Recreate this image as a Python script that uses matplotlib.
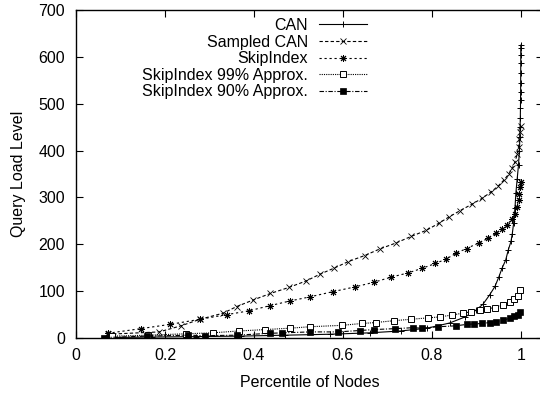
import matplotlib
matplotlib.use('Agg')
import matplotlib.pyplot as plt

can_x = [0.07, 0.17, 0.27, 0.37, 0.47, 0.57, 0.66, 0.73, 0.79, 0.84, 0.875, 0.90,
         0.915, 0.93, 0.942, 0.951, 0.958, 0.966, 0.972, 0.978, 0.981, 0.984, 0.987,
         0.989, 0.992, 0.995, 0.997, 0.998, 0.9985, 0.999, 0.9993, 0.9995, 0.9997,
         0.9998, 0.9999, 1.0]
can_y = [1, 2, 3, 4, 6, 8, 11, 15, 21, 32, 45, 60,
         72, 92, 110, 131, 149, 166, 188, 206, 223, 245, 277,
         309, 340, 370, 400, 430, 451, 470, 491, 508, 525, 544,
         565, 586]
can_top_y = [603, 618, 625]

sampled_x = [0.071, 0.187, 0.236, 0.279, 0.331, 0.361, 0.398, 0.437, 0.479, 0.518,
             0.548, 0.58, 0.612, 0.649, 0.683, 0.72, 0.754, 0.788, 0.816, 0.838,
             0.864, 0.891, 0.913, 0.932, 0.949, 0.962, 0.973, 0.981, 0.987, 0.992,
             0.995, 0.997, 0.999, 1.0]
sampled_y = [8, 13, 26, 40, 53, 67, 81, 95, 108, 122,
             136, 149, 163, 176, 190, 203, 217, 230, 245, 258,
             272, 286, 298, 311, 324, 337, 350, 362, 376, 392,
             408, 425, 440, 452]

skip_x = [0.071, 0.146, 0.211, 0.279, 0.34, 0.389, 0.436, 0.481, 0.527, 0.578,
          0.627, 0.67, 0.709, 0.747, 0.779, 0.808, 0.831, 0.855, 0.878, 0.906,
          0.927, 0.945, 0.958, 0.969, 0.980, 0.987, 0.992, 0.995, 0.997, 0.999, 1.0]
skip_y = [10, 20, 29, 40, 50, 58, 69, 79, 88, 99,
          109, 119, 130, 139, 149, 159, 168, 181, 191, 203,
          213, 224, 233, 242, 253, 265, 280, 295, 308, 322, 333]

approx99_x = [0.082, 0.163, 0.247, 0.307, 0.366, 0.426, 0.482, 0.526, 0.597, 0.643,
              0.674, 0.715, 0.754, 0.792, 0.818, 0.845, 0.870, 0.889, 0.908, 0.923,
              0.942, 0.960, 0.975, 0.985, 0.993, 0.999]
approx99_y = [4, 6, 9, 11, 15, 18, 21, 24, 27, 31,
              33, 37, 40, 43, 45, 49, 53, 56, 59, 62,
              65, 70, 77, 83, 90, 102]

approx90_x = [0.064, 0.16, 0.251, 0.291, 0.361, 0.436, 0.464, 0.527, 0.589, 0.638,
              0.67, 0.718, 0.757, 0.777, 0.815, 0.854, 0.878, 0.894, 0.913, 0.930,
              0.945, 0.960, 0.975, 0.985, 0.993, 0.999]
approx90_y = [1, 4, 6, 5, 6, 10, 11, 13, 13, 16,
              18, 20, 22, 21, 24, 26, 29, 30, 31, 33,
              35, 38, 42, 46, 50, 56]

plt.rcParams['font.family'] = ['Liberation Sans', 'DejaVu Sans']
plt.rcParams['font.size'] = 11.5

fig = plt.figure(figsize=(5.4, 3.95), dpi=100)
ax = fig.add_axes([76 / 540, 57 / 395, 467 / 540, 328 / 395])

lw = 0.8
ax.plot(can_x + [1.0] * len(can_top_y), can_y + can_top_y, color='black', linestyle='-',
        linewidth=lw, marker='+', markersize=5, markeredgewidth=0.7, label='CAN')
ax.plot(sampled_x, sampled_y, color='black', linestyle=(0, (3, 2)), linewidth=lw,
        marker='x', markersize=4, markeredgewidth=0.6, label='Sampled CAN')
ax.plot(skip_x, skip_y, color='black', linestyle=(0, (2, 2.5)), linewidth=lw,
        marker=(8, 2, 0), markersize=5, markeredgewidth=0.7, label='SkipIndex')
ax.plot(approx99_x, approx99_y, color='black', linestyle=(0, (1, 1)), linewidth=lw,
        marker='s', markersize=4, markerfacecolor='white', markeredgewidth=0.7,
        label='SkipIndex 99% Approx.')
ax.plot(approx90_x, approx90_y, color='black', linestyle=(0, (4, 1.5, 1, 1.5)),
        linewidth=lw, marker='s', markersize=4.5, markerfacecolor='black',
        markeredgewidth=0.5, label='SkipIndex 90% Approx.')

ax.set_xlim(0, 1.05)
ax.set_ylim(0, 700)
ax.set_xticks([0, 0.2, 0.4, 0.6, 0.8, 1])
ax.set_xticklabels(['0', '0.2', '0.4', '0.6', '0.8', '1'])
ax.set_yticks(range(0, 701, 100))
ax.tick_params(direction='in', top=True, right=True, length=5, width=0.8)
ax.tick_params(axis='y', pad=8)
ax.tick_params(axis='x', pad=7)
for s in ax.spines.values():
    s.set_linewidth(1.0)

ax.set_xlabel('Percentile of Nodes', labelpad=9)
ax.set_ylabel('Query Load Level', labelpad=9)

leg = ax.legend(loc='upper right', bbox_to_anchor=(0.64, 1.0), frameon=False,
                markerfirst=False, handlelength=3.0, handletextpad=0.7,
                labelspacing=0.1, borderaxespad=0.3, borderpad=0.2)
vp = leg._legend_box._children[-1]._children[0]
vp.align = 'right'

fig.savefig('out.png', dpi=100)
